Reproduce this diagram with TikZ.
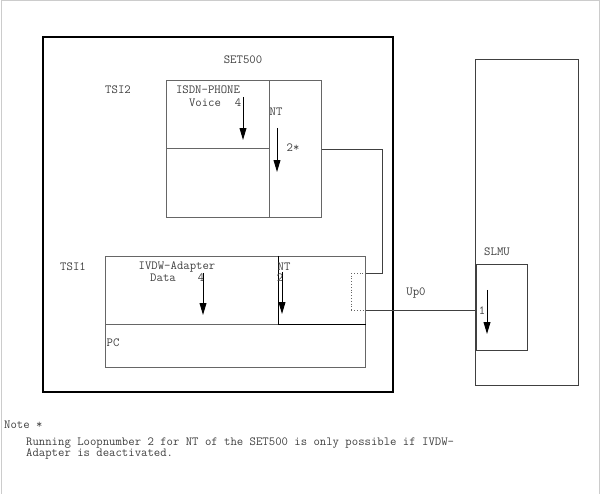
\documentclass[tikz,border=0pt]{standalone}
\usetikzlibrary{arrows.meta,positioning,calc}
\tikzset{
    frame/.style={draw, line width=2pt, anchor=north west, inner sep=0pt},
    unit/.style={draw=black!60, line width=0.9pt, anchor=north west, inner sep=0pt},
    lbl/.style={font=\ttfamily\fontsize{12.4}{11}\selectfont, text=black!75, inner sep=0pt},
    loop/.style={-{Triangle[length=4.2mm, width=2.4mm]}, line width=1pt},
    wire/.style={draw=black!75, line width=0.8pt}
}

\begin{document}
\begin{tikzpicture}[x=1pt, y=-1pt]
    \useasboundingbox (0,0) rectangle (600,494);
    \draw[black!20, line width=1pt] (1,494) -- (1,1) -- (599,1) -- (599,494);

    % SET500
    \node[frame, minimum width=350pt, minimum height=355pt] (set) at (42,36) {};
    \node[lbl] (setlbl) at (243,60) {SET500};

    % TSI2 with ISDN phone
    \node[lbl] (tsi2) at (118,90) {TSI2};
    \node[unit, minimum width=103pt, minimum height=68pt] (phone) at (166,80) {};
    \node[unit, minimum width=103pt, minimum height=69pt] (phonelow) at (166,148) {};
    \node[unit, minimum width=52pt, minimum height=137pt] (nt2) at (269,80) {};
    \node[lbl] (phonelbl) at (208,90) {ISDN-PHONE};
    \node[lbl] (voice) at (205,103) {Voice};
    \node[lbl] (voicenr) at (238,103) {4};
    \coordinate (va) at (243,97);
    \coordinate (vb) at (243,140);
    \draw[loop] (va) -- (vb);
    \node[lbl] (nt2lbl) at (276,112) {NT};
    \coordinate (na) at (277,128);
    \coordinate (nb) at (277,172);
    \draw[loop] (na) -- (nb);
    \node[lbl] (nt2nr) at (293,148) {2*};

    % TSI1 with IVDW adapter
    \node[lbl] (tsi1) at (73,267) {TSI1};
    \node[unit, minimum width=173pt, minimum height=68pt] (adapter) at (105,256) {};
    \node[unit, minimum width=260pt, minimum height=43pt] (pc) at (105,324) {};
    \node[unit, minimum width=87pt, minimum height=68pt] (nt1) at (278,256) {};
    \draw[line width=1pt] (nt1.north west) -- (nt1.south west) -- (nt1.south east);
    \node[lbl] (adlbl) at (177,267) {IVDW-Adapter};
    \node[lbl] (data) at (163,278) {Data};
    \node[lbl] (datanr) at (201,278) {4};
    \coordinate (da) at (203,273);
    \coordinate (db) at (203,315);
    \draw[loop] (da) -- (db);
    \node[lbl] (nt1lbl) at (284,267) {NT};
    \node[lbl] (nt1nr) at (280,278) {2};
    \coordinate (ma) at (282,272);
    \coordinate (mb) at (282,314);
    \draw[loop] (ma) -- (mb);
    \node[lbl] (pclbl) at (113,343) {PC};
    \node[draw=black!60, dotted, line width=0.8pt, anchor=north west, inner sep=0pt,
          minimum width=14pt, minimum height=37pt] (port) at (351,273) {};

    % SLMU
    \node[unit, draw=black!75, minimum width=103pt, minimum height=326pt] (slmu) at (475,59) {};
    \node[lbl] (slmulbl) at (497,252) {SLMU};
    \node[unit, draw=black!75, minimum width=51pt, minimum height=86pt] (slmuin) at (476,264) {};
    \node[lbl] (slmunr) at (482,311) {1};
    \coordinate (sa) at (487,290);
    \coordinate (sb) at (487,334);
    \draw[loop] (sa) -- (sb);

    % wiring
    \coordinate (bend) at (382,273);
    \draw[wire] (nt2.east) -| (bend) -- (port.north east);
    \draw[wire] (port.south east) -- (port.south east -| slmuin.west);
    \node[lbl] (up0) at (416,293) {Up0};

    % note
    \node[lbl, anchor=west] (note) at (4,425) {Note *};
    \node[lbl, anchor=north west, align=left] (notetxt) at (26,438)
        {Running Loopnumber 2 for NT of the SET500 is only possible if IVDW-\\Adapter is deactivated.};
\end{tikzpicture}
\end{document}
